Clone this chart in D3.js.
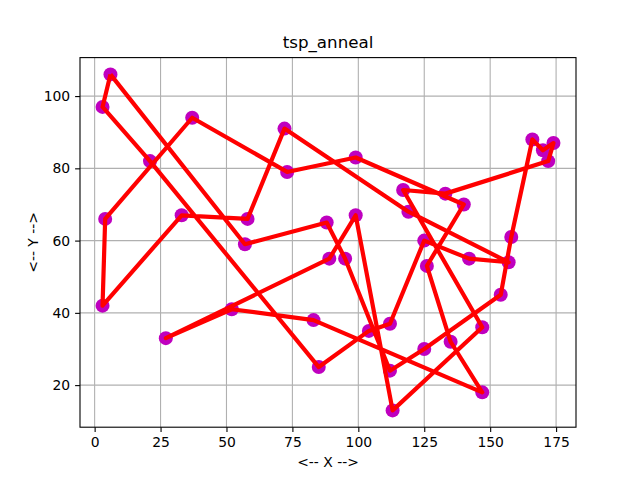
<!DOCTYPE html>
<html>
<head>
  <title>tsp_anneal</title>
  <script src="https://d3js.org/d3.v7.min.js"></script>
  <style>
    body { margin: 0; background: #fff; }
    text { font-family: "DejaVu Sans", sans-serif; fill: #000; }
  </style>
</head>
<body>
  <div id="chart"></div>

  <script>
    // city coordinates, listed in tour order (the tour closes back to the first city)
    var tourX = [6, 3, 21, 85, 104, 112, 125, 142, 157, 119, 72, 58, 33, 3, 4, 37, 73, 99,
                 140, 126, 135, 147, 83, 52, 27, 89, 99, 113, 147, 117, 133, 172, 174, 170,
                 166, 158, 154, 125, 112, 95, 88, 57];
    var tourY = [106, 97, 82, 25, 35, 37, 60, 55, 54, 68, 91, 66, 67, 42, 66, 94, 79, 83,
                 70, 53, 32, 18, 38, 41, 33, 55, 67, 13, 36, 74, 73, 82, 87, 85,
                 88, 61, 45, 30, 24, 55, 65, 59];
    var xTicks = [0, 25, 50, 75, 100, 125, 150, 175];
    var yTicks = [20, 40, 60, 80, 100];

    var W = 640, H = 480;
    var margin = { top: 57.6, right: 64, bottom: 52.8, left: 80 };
    var width = W - margin.left - margin.right;
    var height = H - margin.top - margin.bottom;

    var cities = tourX.map(function(x, i) { return { x: x, y: tourY[i] }; });
    var path = cities.concat([cities[0]]);

    // matplotlib style 5% padding on each side
    var xr = d3.extent(tourX), yr = d3.extent(tourY);
    var xp = (xr[1] - xr[0]) * 0.05, yp = (yr[1] - yr[0]) * 0.05;

    var x = d3.scaleLinear().domain([xr[0] - xp, xr[1] + xp]).range([0, width]);
    var y = d3.scaleLinear().domain([yr[0] - yp, yr[1] + yp]).range([height, 0]);

    var svg = d3.select('#chart').append('svg')
      .attr('width', W)
      .attr('height', H);

    var g = svg.append('g')
      .attr('transform', 'translate(' + margin.left + ',' + margin.top + ')');

    // grid
    g.append('g')
      .selectAll('line')
      .data(xTicks)
      .enter()
      .append('line')
      .attr('x1', function(d) { return x(d); })
      .attr('x2', function(d) { return x(d); })
      .attr('y1', 0)
      .attr('y2', height)
      .attr('stroke', '#b0b0b0')
      .attr('stroke-width', 1.1);

    g.append('g')
      .selectAll('line')
      .data(yTicks)
      .enter()
      .append('line')
      .attr('y1', function(d) { return y(d); })
      .attr('y2', function(d) { return y(d); })
      .attr('x1', 0)
      .attr('x2', width)
      .attr('stroke', '#b0b0b0')
      .attr('stroke-width', 1.1);

    // cities
    g.append('g')
      .selectAll('circle')
      .data(cities)
      .enter()
      .append('circle')
      .attr('cx', function(d) { return x(d.x); })
      .attr('cy', function(d) { return y(d.y); })
      .attr('r', 7)
      .attr('fill', '#bf00bf');

    // tour
    var line = d3.line()
      .x(function(d) { return x(d.x); })
      .y(function(d) { return y(d.y); });

    g.append('path')
      .datum(path)
      .attr('d', line)
      .attr('fill', 'none')
      .attr('stroke', '#ff0000')
      .attr('stroke-width', 4.2)
      .attr('stroke-linejoin', 'round')
      .attr('stroke-linecap', 'butt');

    // axes
    var xAxis = g.append('g')
      .attr('transform', 'translate(0,' + height + ')')
      .call(d3.axisBottom(x).tickValues(xTicks).tickSize(4.9).tickPadding(4.9).tickFormat(d3.format('d')));

    var yAxis = g.append('g')
      .call(d3.axisLeft(y).tickValues(yTicks).tickSize(4.9).tickPadding(4.9).tickFormat(d3.format('d')));

    [xAxis, yAxis].forEach(function(a) {
      a.select('.domain').remove();
      a.selectAll('line').attr('stroke', '#000').attr('stroke-width', 1.1);
      a.selectAll('text')
        .attr('font-size', '13.9px')
        .attr('font-family', '"DejaVu Sans", sans-serif')
        .attr('fill', '#000');
    });

    // frame
    g.append('rect')
      .attr('width', width)
      .attr('height', height)
      .attr('fill', 'none')
      .attr('stroke', '#000')
      .attr('stroke-width', 1.1);

    // labels
    svg.append('text')
      .attr('x', margin.left + width / 2)
      .attr('y', 48)
      .attr('text-anchor', 'middle')
      .attr('font-size', '16.7px')
      .text('tsp_anneal');

    svg.append('text')
      .attr('x', margin.left + width / 2)
      .attr('y', 467)
      .attr('text-anchor', 'middle')
      .attr('font-size', '13.9px')
      .text('<-- X -->');

    svg.append('text')
      .attr('transform', 'translate(38,' + (margin.top + height / 2) + ') rotate(-90)')
      .attr('text-anchor', 'middle')
      .attr('font-size', '13.9px')
      .text('<-- Y -->');
  </script>
</body>
</html>
